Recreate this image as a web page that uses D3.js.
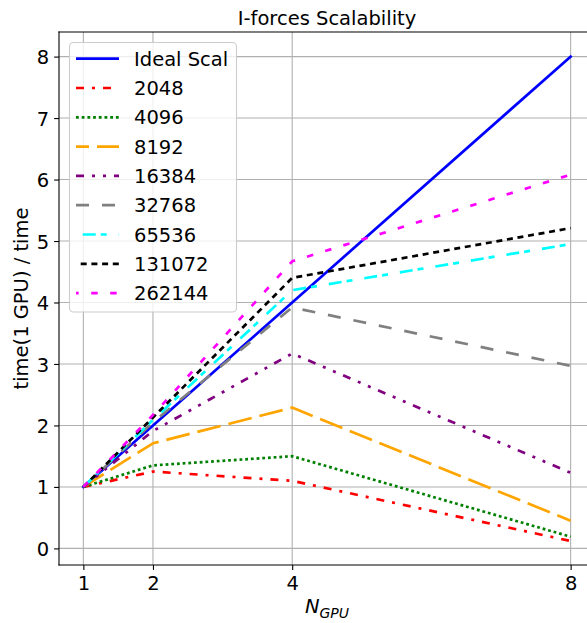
<!DOCTYPE html>
<html>
<head>
<meta charset="utf-8">
<script src="https://cdn.jsdelivr.net/npm/d3@7"></script>
<style>
  html, body { margin: 0; padding: 0; background: #fff; overflow: hidden; }
  svg { display: block; font-family: "DejaVu Sans", sans-serif; }
</style>
</head>
<body>
<svg id="chart" width="587" height="623"></svg>
<script>
// GPU counts on the x axis
const nGpu = [1, 2, 4, 8];

// Speed-up (time on 1 GPU / time) per problem size
const idealScal = [1, 2, 4, 8];
const s2048   = [1, 1.25, 1.10, 0.12];
const s4096   = [1, 1.35, 1.50, 0.19];
const s8192   = [1, 1.71, 2.29, 0.45];
const s16384  = [1, 1.91, 3.17, 1.23];
const s32768  = [1, 2.05, 3.92, 2.97];
const s65536  = [1, 2.09, 4.20, 4.95];
const s131072 = [1, 2.13, 4.40, 5.21];
const s262144 = [1, 2.17, 4.67, 6.08];

const seriesNames = ["Ideal Scal", "2048", "4096", "8192", "16384", "32768", "65536", "131072", "262144"];
const seriesValues = [idealScal, s2048, s4096, s8192, s16384, s32768, s65536, s131072, s262144];

const xTicks = [1, 2, 4, 8];
const yTicks = [0, 1, 2, 3, 4, 5, 6, 7, 8];

// Line styles: colour, dash pattern, dash offset used for the legend sample
const styles = [
  { color: "#0000ff", dash: null,            legendOffset: 0 },
  { color: "#ff0000", dash: "8,8,3,8",       legendOffset: 0 },
  { color: "#008000", dash: "2.8,2.9",       legendOffset: 0 },
  { color: "#ffa500", dash: "24,8",          legendOffset: 11 },
  { color: "#800080", dash: "8,8,3,8,3,8",   legendOffset: 0 },
  { color: "#808080", dash: "13,13",         legendOffset: 0 },
  { color: "#00ffff", dash: "13,5,6,12",     legendOffset: 29.3 },
  { color: "#000000", dash: "6,4.7",         legendOffset: 6 },
  { color: "#ff00ff", dash: "6.5,12.5",      legendOffset: 3.8 }
];

const FONT = 19.5;
const margin = { left: 59, top: 32, right: 595, bottom: 565 };

const svg = d3.select("#chart");

const x = d3.scaleLinear().domain([0.65, 8.35]).range([margin.left, margin.right]);
const y = d3.scaleLinear().domain([-0.27, 8.40]).range([margin.bottom, margin.top]);

// Grid
const grid = svg.append("g").attr("class", "grid");
grid.selectAll("line.gx").data(xTicks).join("line")
  .attr("x1", d => x(d)).attr("x2", d => x(d))
  .attr("y1", margin.top).attr("y2", margin.bottom)
  .attr("stroke", "#b0b0b0").attr("stroke-width", 1.1);
grid.selectAll("line.gy").data(yTicks).join("line")
  .attr("x1", margin.left).attr("x2", margin.right)
  .attr("y1", d => y(d)).attr("y2", d => y(d))
  .attr("stroke", "#b0b0b0").attr("stroke-width", 1.1);

// Series lines
const line = d3.line().x((d, i) => x(nGpu[i])).y(d => y(d));
const lines = svg.append("g").attr("class", "lines");
seriesValues.forEach((vals, k) => {
  const st = styles[k];
  lines.append("path")
    .datum(vals)
    .attr("d", line)
    .attr("fill", "none")
    .attr("stroke", st.color)
    .attr("stroke-width", 2.7)
    .attr("stroke-linejoin", "round")
    .attr("stroke-linecap", st.dash ? "butt" : "square")
    .attr("stroke-dasharray", st.dash);
});

// Axes
const xAxis = d3.axisBottom(x).tickValues(xTicks).tickFormat(d3.format("d")).tickSize(4.9).tickPadding(4.9);
const yAxis = d3.axisLeft(y).tickValues(yTicks).tickFormat(d3.format("d")).tickSize(4.9).tickPadding(4.9);

const gx = svg.append("g").attr("transform", `translate(0,${margin.bottom})`).call(xAxis);
const gy = svg.append("g").attr("transform", `translate(${margin.left},0)`).call(yAxis);
[gx, gy].forEach(g => {
  g.select(".domain").remove();
  g.selectAll(".tick line").attr("stroke", "#000").attr("stroke-width", 1.1);
  g.selectAll(".tick text").attr("fill", "#000").style("font-size", FONT + "px")
    .style("font-family", "DejaVu Sans");
});
gx.selectAll(".tick text").attr("dy", "0.76em");
gy.selectAll(".tick text").attr("dy", "0.36em");

// Spines
const spines = svg.append("g");
spines.append("line").attr("x1", margin.left).attr("x2", margin.left).attr("y1", margin.top).attr("y2", margin.bottom);
spines.append("line").attr("x1", margin.left).attr("x2", margin.right).attr("y1", margin.bottom).attr("y2", margin.bottom);
spines.append("line").attr("x1", margin.left).attr("x2", margin.right).attr("y1", margin.top).attr("y2", margin.top);
spines.append("line").attr("x1", margin.right).attr("x2", margin.right).attr("y1", margin.top).attr("y2", margin.bottom);
spines.selectAll("line").attr("stroke", "#000").attr("stroke-width", 1.1).attr("stroke-linecap", "square");

// Title
const cx = (margin.left + margin.right) / 2;
svg.append("text").attr("x", cx).attr("y", 25).attr("text-anchor", "middle")
  .style("font-size", FONT + "px").text("I-forces Scalability");

// X axis label: N with subscript GPU
const xl = svg.append("text").attr("x", cx).attr("y", 613).attr("text-anchor", "middle")
  .style("font-size", FONT + "px").style("font-style", "italic");
xl.append("tspan").text("N");
xl.append("tspan").attr("dy", 5).style("font-size", "14px").text("GPU");

// Y axis label
svg.append("text")
  .attr("transform", `translate(28.3,${(margin.top + margin.bottom) / 2}) rotate(-90)`)
  .attr("text-anchor", "middle")
  .style("font-size", FONT + "px")
  .text("time(1 GPU) / time");

// Legend
const legend = svg.append("g");
legend.append("rect")
  .attr("x", 69.5).attr("y", 42.5).attr("width", 167).attr("height", 269.5)
  .attr("rx", 4).attr("ry", 4)
  .attr("fill", "#ffffff").attr("fill-opacity", 0.8)
  .attr("stroke", "#cccccc").attr("stroke-width", 1.1);
seriesNames.forEach((name, k) => {
  const st = styles[k];
  const cy = 58.7 + k * 29.3;
  legend.append("line")
    .attr("x1", 76).attr("x2", 119).attr("y1", cy).attr("y2", cy)
    .attr("stroke", st.color).attr("stroke-width", 2.7)
    .attr("stroke-linecap", "butt")
    .attr("stroke-dasharray", st.dash)
    .attr("stroke-dashoffset", st.legendOffset);
  legend.append("text")
    .attr("x", 134).attr("y", cy + 7)
    .style("font-size", FONT + "px")
    .text(name);
});
</script>
</body>
</html>
